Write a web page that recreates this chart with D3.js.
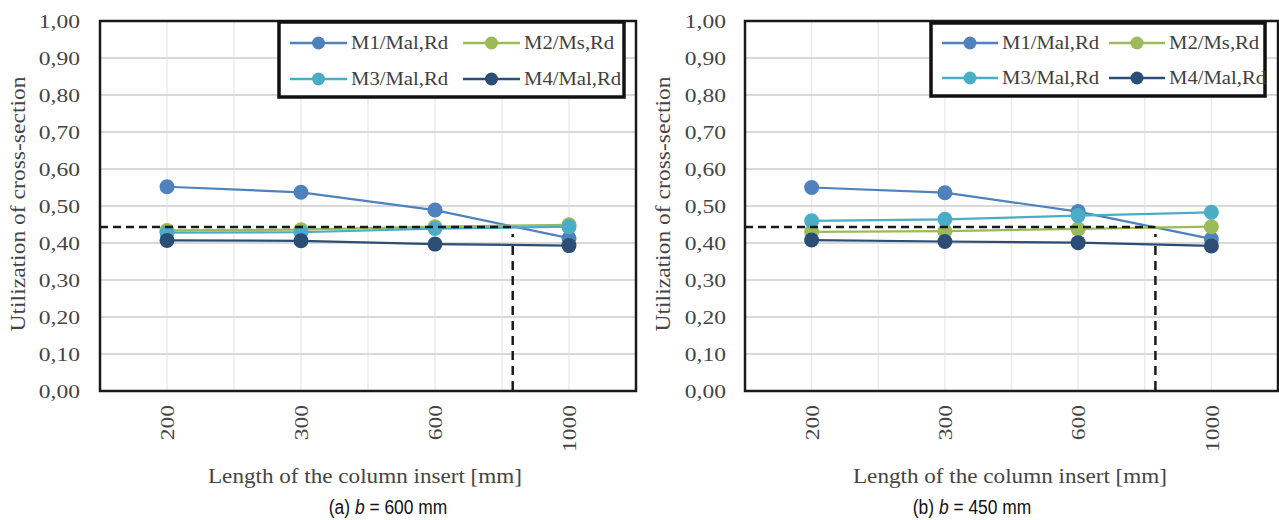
<!DOCTYPE html>
<html>
<head>
<meta charset="utf-8">
<script src="https://cdn.jsdelivr.net/npm/d3@7"></script>
<style>
  html, body { margin: 0; padding: 0; background: #fff; }
  svg { display: block; }
</style>
</head>
<body>
<svg id="chart" width="1279" height="520"></svg>
<script>
// ---------- data ----------
const categories = ["200", "300", "600", "1000"];
const seriesNames = ["M1/Mal,Rd", "M2/Ms,Rd", "M3/Mal,Rd", "M4/Mal,Rd"];
const seriesColors = ["#4f81bd", "#9bbb59", "#4bacc6", "#2c4d75"];

// panel (a) b = 600 mm
const a_M1 = [0.552, 0.537, 0.489, 0.413];
const a_M2 = [0.434, 0.436, 0.444, 0.449];
const a_M3 = [0.428, 0.429, 0.439, 0.444];
const a_M4 = [0.407, 0.406, 0.397, 0.393];

// panel (b) b = 450 mm
const b_M1 = [0.550, 0.536, 0.485, 0.411];
const b_M2 = [0.430, 0.432, 0.438, 0.444];
const b_M3 = [0.460, 0.464, 0.474, 0.483];
const b_M4 = [0.408, 0.404, 0.401, 0.392];

const yTicks = [0, 0.1, 0.2, 0.3, 0.4, 0.5, 0.6, 0.7, 0.8, 0.9, 1.0];
const thresholdValue = 0.443;      // horizontal dashed reference
const thresholdAt = 2.58;          // position along category index where M1 crosses

const yTitle = "Utilization of cross-section";
const xTitle = "Length of the column insert [mm]";

// ---------- drawing ----------
const svg = d3.select("#chart");
const serif = "'Liberation Serif', 'Times New Roman', serif";
const sans = "'Liberation Sans', Arial, sans-serif";
const textGray = "#454545";

const panels = [
  { series: [a_M1, a_M2, a_M3, a_M4], x0: 100, x1: 636, yLabX: 80, yTitleX: 18,
    titleX: 365, capX: 388,
    caption: ["(a) ", "b", " = 600 mm"],
    legend: { x: 279, y: 22, w: 345, h: 75, col1: 290, col2: 463, lineLen: 57, rows: [43, 79] } },
  { series: [b_M1, b_M2, b_M3, b_M4], x0: 745, x1: 1278, yLabX: 726, yTitleX: 663,
    titleX: 1010, capX: 972,
    caption: ["(b) ", "b", " = 450 mm"],
    legend: { x: 931, y: 23, w: 334, h: 73, col1: 942, col2: 1109, lineLen: 56, rows: [43, 78] } }
];

const yTop = 21, yBot = 391;

panels.forEach(p => {
  const g = svg.append("g");
  const x = d3.scalePoint().domain(categories).range([p.x0, p.x1]).padding(0.5);
  const step = x.step();
  const y = d3.scaleLinear().domain([0, 1]).range([yBot, yTop]);

  // vertical gridlines (every half category)
  g.append("g").selectAll("line")
    .data(d3.range(1, categories.length * 2))
    .join("line")
    .attr("x1", k => p.x0 + k * step / 2).attr("x2", k => p.x0 + k * step / 2)
    .attr("y1", yTop).attr("y2", yBot)
    .attr("stroke", "#ececec").attr("stroke-width", 1.5);

  // horizontal gridlines
  g.append("g").selectAll("line")
    .data(yTicks)
    .join("line")
    .attr("x1", p.x0).attr("x2", p.x1)
    .attr("y1", d => y(d)).attr("y2", d => y(d))
    .attr("stroke", "#d9d9d9").attr("stroke-width", 2);

  // y axis labels
  const yAxis = d3.axisLeft(y).tickValues(yTicks)
    .tickFormat(d => d3.format(".2f")(d).replace(".", ","))
    .tickSize(0).tickPadding(0);
  const ya = g.append("g").attr("transform", `translate(${p.yLabX},0)`).call(yAxis)
    .attr("font-family", serif).attr("font-size", 19);
  ya.select(".domain").remove();
  ya.selectAll("text")
    .style("font-family", serif).style("font-size", "19px")
    .attr("fill", textGray).attr("x", 0).attr("dy", "0.35em")
    .attr("transform", "scale(1.24,1)");

  // y title
  g.append("text")
    .attr("transform", `translate(${p.yTitleX},${(yTop + yBot) / 2 - 2}) rotate(-90)`)
    .attr("text-anchor", "middle").attr("dy", "0.35em")
    .style("font-family", serif).style("font-size", "20px").attr("fill", textGray)
    .attr("textLength", 255).attr("lengthAdjust", "spacingAndGlyphs")
    .text(yTitle);

  // x axis labels (rotated)
  const xAxis = d3.axisBottom(x).tickSize(0).tickPadding(0);
  const xa = g.append("g").attr("transform", `translate(0,${yBot})`).call(xAxis)
    .attr("font-family", serif).attr("font-size", 19);
  xa.select(".domain").remove();
  xa.selectAll("text")
    .style("font-family", serif).style("font-size", "19px").attr("fill", textGray)
    .attr("text-anchor", "end")
    .attr("transform", "translate(0,14) rotate(-90) scale(1.24,1)")
    .attr("x", 0).attr("y", 0).attr("dy", "0.35em");

  // x title
  g.append("text")
    .attr("x", p.titleX).attr("y", 483)
    .attr("text-anchor", "middle")
    .style("font-family", serif).style("font-size", "20px").attr("fill", textGray)
    .attr("textLength", 314).attr("lengthAdjust", "spacingAndGlyphs")
    .text(xTitle);

  // caption (narrow sans)
  const cap = g.append("text")
    .attr("transform", `translate(${p.capX},514) scale(0.87,1)`)
    .attr("text-anchor", "middle")
    .style("font-family", sans).style("font-size", "20px").attr("fill", "#111");
  cap.append("tspan").text(p.caption[0]);
  cap.append("tspan").attr("font-style", "italic").text(p.caption[1]);
  cap.append("tspan").text(p.caption[2]);

  // series lines and markers
  const line = d3.line().x((d, i) => x(categories[i])).y(d => y(d));
  p.series.forEach((vals, si) => {
    g.append("path").datum(vals)
      .attr("d", line).attr("fill", "none")
      .attr("stroke", seriesColors[si]).attr("stroke-width", 2.2);
    g.append("g").selectAll("circle").data(vals).join("circle")
      .attr("cx", (d, i) => x(categories[i])).attr("cy", d => y(d))
      .attr("r", 7.5).attr("fill", seriesColors[si]);
  });

  // dashed reference lines
  const xc = x(categories[0]) + thresholdAt * step;
  g.append("line")
    .attr("x1", p.x0).attr("x2", xc)
    .attr("y1", y(thresholdValue)).attr("y2", y(thresholdValue))
    .attr("stroke", "#1a1a1a").attr("stroke-width", 2.5).attr("stroke-dasharray", "8,5");
  g.append("line")
    .attr("x1", xc).attr("x2", xc)
    .attr("y1", y(thresholdValue) + 7).attr("y2", yBot)
    .attr("stroke", "#1a1a1a").attr("stroke-width", 2.5).attr("stroke-dasharray", "3,9,9,6,9,6,9,6,9,6,9,6,9,6,9,6,9,6,9,6,9,6,9,6,9,6");

  // plot frame
  g.append("rect")
    .attr("x", p.x0).attr("y", yTop).attr("width", p.x1 - p.x0).attr("height", yBot - yTop)
    .attr("fill", "none").attr("stroke", "#1a1a1a").attr("stroke-width", 2.5);

  // legend
  const L = p.legend;
  const lg = g.append("g");
  lg.append("rect").attr("x", L.x).attr("y", L.y).attr("width", L.w).attr("height", L.h)
    .attr("fill", "#fff").attr("stroke", "#111").attr("stroke-width", 3.5);
  seriesNames.forEach((name, i) => {
    const cx = i % 2 === 0 ? L.col1 : L.col2;
    const cy = L.rows[Math.floor(i / 2)];
    lg.append("line").attr("x1", cx).attr("x2", cx + L.lineLen)
      .attr("y1", cy).attr("y2", cy)
      .attr("stroke", seriesColors[i]).attr("stroke-width", 2.5);
    lg.append("circle").attr("cx", cx + L.lineLen / 2).attr("cy", cy).attr("r", 6.5)
      .attr("fill", seriesColors[i]);
    lg.append("text")
      .attr("transform", `translate(${cx + L.lineLen + 4},${cy}) scale(1.15,1)`)
      .attr("dy", "0.35em")
      .style("font-family", serif).style("font-size", "18px").attr("fill", "#404040")
      .text(name);
  });
});
</script>
</body>
</html>
